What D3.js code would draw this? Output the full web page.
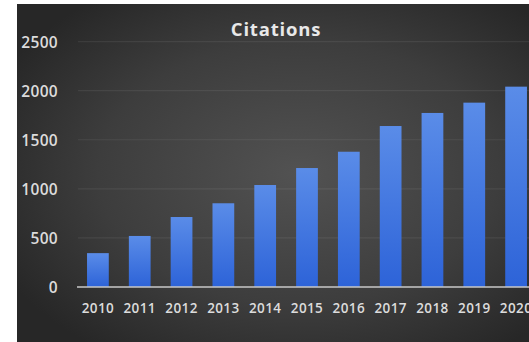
<!DOCTYPE html>
<html>
<head>
<meta charset="utf-8">
<script src="https://cdn.jsdelivr.net/npm/d3@7"></script>
<style>
  body { margin: 0; background: #fff; }
  svg { display: block; }
</style>
</head>
<body>
<svg id="visu" width="529" height="342"></svg>
<script>
var years = ["2010", "2011", "2012", "2013", "2014", "2015", "2016", "2017", "2018", "2019", "2020"];
var citations = [345, 520, 713, 853, 1039, 1212, 1378, 1640, 1773, 1878, 2041];
var yTicks = [0, 500, 1000, 1500, 2000, 2500];

var vis = d3.select("#visu"),
    WIDTH = 529,
    HEIGHT = 342,
    PANEL = { left: 17, top: 4 },
    xScale = d3.scaleBand()
      .domain(years)
      .range([77, 537])
      .paddingInner(0.48)
      .paddingOuter(0.24),
    yScale = d3.scaleLinear()
      .domain([0, 2500])
      .range([287, 41.6]);

var defs = vis.append("defs");
var bg = defs.append("radialGradient")
    .attr("id", "bg")
    .attr("cx", "55%").attr("cy", "50%").attr("r", "65%");
bg.append("stop").attr("offset", "0%").attr("stop-color", "#525252");
bg.append("stop").attr("offset", "60%").attr("stop-color", "#3d3d3d");
bg.append("stop").attr("offset", "100%").attr("stop-color", "#272727");

var barGrad = defs.append("linearGradient")
    .attr("id", "bar")
    .attr("x1", 0).attr("y1", 0).attr("x2", 0).attr("y2", 1);
barGrad.append("stop").attr("offset", "0%").attr("stop-color", "#5a8ce8");
barGrad.append("stop").attr("offset", "100%").attr("stop-color", "#2d63d8");

// panel
vis.append("rect")
  .attr("x", PANEL.left).attr("y", PANEL.top)
  .attr("width", WIDTH - PANEL.left).attr("height", HEIGHT - PANEL.top)
  .attr("fill", "url(#bg)");

// gridlines
vis.append("g")
  .selectAll("line")
  .data(yTicks.slice(1))
  .join("line")
    .attr("x1", 78).attr("x2", WIDTH)
    .attr("y1", function(d) { return yScale(d); })
    .attr("y2", function(d) { return yScale(d); })
    .attr("stroke", "#ffffff")
    .attr("stroke-opacity", 0.07)
    .attr("stroke-width", 1.2);

// bars
vis.append("g")
  .selectAll("rect")
  .data(citations)
  .join("rect")
    .attr("x", function(d, i) { return xScale(years[i]); })
    .attr("y", function(d) { return yScale(d); })
    .attr("width", xScale.bandwidth())
    .attr("height", function(d) { return yScale(0) - yScale(d); })
    .attr("fill", "url(#bar)");

// baseline
vis.append("line")
  .attr("x1", 77).attr("x2", WIDTH)
  .attr("y1", yScale(0)).attr("y2", yScale(0))
  .attr("stroke", "#c8c8c8")
  .attr("stroke-width", 1.5);

// y labels
var yAxis = d3.axisLeft(yScale).tickValues(yTicks).tickFormat(d3.format("d")).tickSize(0).tickPadding(0);
var yG = vis.append("g")
  .attr("transform", "translate(58,0)")
  .call(yAxis);
yG.select(".domain").remove();
yG.selectAll("text")
  .attr("fill", "#dcdcdc")
  .attr("font-family", "'Open Sans', sans-serif")
  .attr("font-weight", 600)
  .attr("font-size", 15.5)
  .attr("letter-spacing", 0.3)
  .attr("dy", "0.35em");

// x labels
var xAxis = d3.axisBottom(xScale).tickSize(0).tickPadding(0);
var xG = vis.append("g")
  .attr("transform", "translate(0," + 302 + ")")
  .call(xAxis);
xG.select(".domain").remove();
xG.selectAll("text")
  .attr("fill", "#dcdcdc")
  .attr("font-family", "'Open Sans', sans-serif")
  .attr("font-weight", 600)
  .attr("font-size", 13.5)
  .attr("letter-spacing", 0.4)
  .attr("dy", "0.35em")
  .attr("y", 6);

// title
vis.append("text")
  .attr("x", 276).attr("y", 36)
  .attr("text-anchor", "middle")
  .attr("fill", "#e8e8e8")
  .attr("font-family", "'Open Sans', sans-serif")
  .attr("font-weight", 700)
  .attr("font-size", 18.5)
  .attr("letter-spacing", 0.8)
  .text("Citations");
</script>
</body>
</html>
